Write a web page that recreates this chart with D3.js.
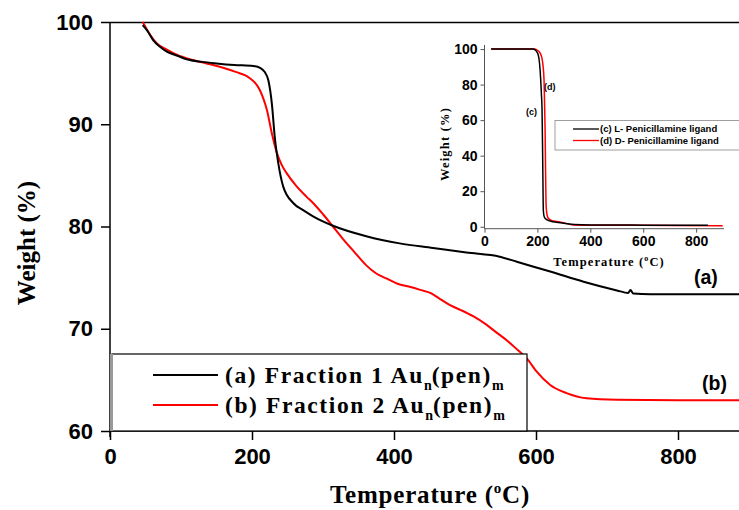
<!DOCTYPE html>
<html>
<head>
<meta charset="utf-8">
<script src="https://cdn.jsdelivr.net/npm/d3@7"></script>
<style>
body { margin: 0; background: #fff; }
svg { display: block; }
</style>
</head>
<body>
<script>
const width = 739, height = 510;

// main TGA curves
const tempA = [46, 52, 61, 70, 80, 95, 108, 130, 150, 175, 202, 212, 218, 223, 228, 232, 237, 244, 258, 272, 286, 315, 361, 408, 455, 502, 549, 573, 620, 667, 714, 730, 733, 737, 761, 800, 900];
const weightA = [99.7, 99.2, 98.2, 97.6, 97.1, 96.7, 96.35, 96.1, 95.95, 95.8, 95.7, 95.5, 95.1, 94.3, 92.0, 88.8, 86.2, 83.9, 82.3, 81.6, 81.0, 80.05, 79.05, 78.35, 77.9, 77.45, 77.05, 76.55, 75.6, 74.6, 73.75, 73.5, 73.8, 73.45, 73.37, 73.37, 73.37];
const tempB = [46, 56, 66, 80, 94, 115, 136, 158, 178, 190, 197, 205, 211, 216, 221, 228, 235, 242, 249, 262, 277, 286, 300, 314, 328, 343, 361, 375, 390, 405, 422, 437, 451, 465, 479, 495, 512, 528, 545, 560, 573, 587, 601, 620, 643, 671, 714, 800, 900];
const weightB = [100, 98.8, 97.9, 97.3, 96.8, 96.3, 95.95, 95.55, 95.1, 94.8, 94.5, 94.0, 93.35, 92.5, 91.4, 89.1, 87.2, 86.0, 85.2, 84.0, 82.9, 82.3, 81.2, 80.0, 78.8, 77.6, 76.2, 75.4, 74.9, 74.4, 74.1, 73.8, 73.5, 72.9, 72.3, 71.8, 71.2, 70.5, 69.6, 68.8, 68.0, 67.1, 65.8, 64.5, 63.7, 63.2, 63.05, 63.0, 63.0];

// inset: free ligands
const tempC = [25, 100, 184, 195, 203, 208, 212.5, 215, 217.5, 220, 222.5, 226, 235, 260, 300, 340, 400, 600, 845];
const weightC = [100, 100, 100, 99, 96.8, 92, 82.7, 75, 66, 38, 8.9, 5.5, 4, 2.8, 2, 1.2, 1, 0.9, 0.8];
const tempD = [25, 100, 190, 197, 208, 216, 221, 225, 227, 229, 231, 232.5, 236, 241, 255, 273, 298, 336, 400, 600, 880, 900];
const weightD = [100, 100, 100, 99.6, 98.3, 95.6, 91, 82.7, 70, 54.6, 30, 13.3, 7, 4.8, 3.4, 3, 2.3, 1.0, 0.9, 0.8, 0.6, 0.6];

const xTicks = [0, 200, 400, 600, 800];
const yTicks = [60, 70, 80, 90, 100];
const insetXTicks = [0, 200, 400, 600, 800];
const insetYTicks = [0, 20, 40, 60, 80, 100];

const sans = "'Liberation Sans', Arial, sans-serif";
const serif = "'Liberation Serif', 'Times New Roman', serif";

const svg = d3.select("body").append("svg")
    .attr("width", width)
    .attr("height", height);

const x = d3.scaleLinear().domain([0, 900]).range([110, 749]);
const y = d3.scaleLinear().domain([60, 100]).range([431, 22]);

const line = d3.line().curve(d3.curveMonotoneX);

function pts(t, w, sx, sy) {
    return t.map((d, i) => [sx(d), sy(w[i])]);
}

// frame top
svg.append("line")
    .attr("x1", 110).attr("x2", width)
    .attr("y1", 22.5).attr("y2", 22.5)
    .attr("stroke", "#000").attr("stroke-width", 1.3);

// x axis
const gx = svg.append("g").attr("transform", "translate(0,431)");
gx.call(d3.axisBottom(x).tickValues(d3.range(100, 900, 200)).tickSize(5).tickFormat(""));
gx.call(d3.axisBottom(x).tickValues(xTicks).tickSize(9).tickPadding(8).tickFormat(d3.format("d")));
gx.select(".domain").attr("d", `M110,0H${width}`);
gx.selectAll("path,line").attr("stroke", "#000").attr("stroke-width", 1.5);
gx.selectAll("text").attr("font-family", sans).attr("font-weight", "bold").attr("font-size", 22).attr("fill", "#000");

// y axis
const gy = svg.append("g").attr("transform", "translate(110,0)");
gy.call(d3.axisLeft(y).tickValues([65, 75, 85, 95]).tickSize(5).tickFormat(""));
gy.call(d3.axisLeft(y).tickValues(yTicks).tickSize(9).tickPadding(8).tickFormat(d3.format("d")));
gy.select(".domain").attr("d", "M0,22V437");
gy.selectAll("path,line").attr("stroke", "#000").attr("stroke-width", 1.5);
gy.selectAll("text").attr("font-family", sans).attr("font-weight", "bold").attr("font-size", 22).attr("fill", "#000");

// curves
svg.append("path")
    .attr("d", line(pts(tempB, weightB, x, y)))
    .attr("fill", "none").attr("stroke", "#ff0000").attr("stroke-width", 2);
svg.append("path")
    .attr("d", line(pts(tempA, weightA, x, y)))
    .attr("fill", "none").attr("stroke", "#000").attr("stroke-width", 2);

// axis titles
svg.append("text")
    .attr("transform", "translate(35,243) rotate(-90)")
    .attr("text-anchor", "middle")
    .attr("font-family", serif).attr("font-weight", "bold").attr("font-size", 25)
    .text("Weight (%)");

const xt = svg.append("text")
    .attr("x", 430).attr("y", 503)
    .attr("text-anchor", "middle")
    .attr("font-family", serif).attr("font-weight", "bold").attr("font-size", 25)
    .attr("letter-spacing", 0.8);
xt.append("tspan").text("Temperature (");
xt.append("tspan").attr("font-size", 15).attr("dy", -10).text("o");
xt.append("tspan").attr("dy", 10).text("C)");

// curve labels
svg.append("text").attr("x", 694).attr("y", 284)
    .attr("font-family", sans).attr("font-weight", "bold").attr("font-size", 19.5)
    .text("(a)");
svg.append("text").attr("x", 702).attr("y", 390)
    .attr("font-family", sans).attr("font-weight", "bold").attr("font-size", 19.5)
    .text("(b)");

// legend
const lg = svg.append("g");
lg.append("rect")
    .attr("x", 112).attr("y", 354).attr("width", 415).attr("height", 77)
    .attr("fill", "#fff").attr("stroke", "#000").attr("stroke-width", 1.2);
lg.append("rect")
    .attr("x", 110).attr("y", 354).attr("width", 3).attr("height", 77)
    .attr("fill", "#999");

const legendItems = [
    { label: "(a) Fraction 1 Au", color: "#000" },
    { label: "(b) Fraction 2 Au", color: "#ff0000" }
];
legendItems.forEach((d, i) => {
    const cy = 375 + i * 30;
    lg.append("line")
        .attr("x1", 153).attr("x2", 218)
        .attr("y1", cy).attr("y2", cy)
        .attr("stroke", d.color).attr("stroke-width", 2);
    const t = lg.append("text")
        .attr("x", 225).attr("y", cy + 8)
        .attr("font-family", serif).attr("font-weight", "bold").attr("font-size", 23.5)
        .attr("letter-spacing", 1.6);
    t.append("tspan").text(d.label);
    t.append("tspan").attr("font-size", 14).attr("dy", 7).attr("letter-spacing", 0).text("n");
    t.append("tspan").attr("dy", -7).text("(pen)");
    t.append("tspan").attr("font-size", 14).attr("dy", 7).attr("letter-spacing", 0).text("m");
});

// ---- inset ----
const xi = d3.scaleLinear().domain([0, 900]).range([484.5, 722.6]);
const yi = d3.scaleLinear().domain([-1.1, 102.3]).range([228.7, 45]);

const gxi = svg.append("g").attr("transform", "translate(0,228.7)");
gxi.call(d3.axisBottom(xi).tickValues(d3.range(100, 900, 200)).tickSize(2).tickFormat(""));
gxi.call(d3.axisBottom(xi).tickValues(insetXTicks).tickSize(4).tickPadding(3).tickFormat(d3.format("d")));
gxi.select(".domain").attr("d", "M484.5,0H724");
gxi.selectAll("path,line").attr("stroke", "#555").attr("stroke-width", 1);
gxi.selectAll("text").attr("font-family", sans).attr("font-weight", "bold").attr("font-size", 14).attr("fill", "#000");

const gyi = svg.append("g").attr("transform", "translate(484.5,0)");
gyi.call(d3.axisLeft(yi).tickValues([10, 30, 50, 70, 90]).tickSize(2).tickFormat(""));
gyi.call(d3.axisLeft(yi).tickValues(insetYTicks).tickSize(4).tickPadding(3).tickFormat(d3.format("d")));
gyi.select(".domain").attr("d", "M0,45V228.7");
gyi.selectAll("path,line").attr("stroke", "#555").attr("stroke-width", 1);
gyi.selectAll("text").attr("font-family", sans).attr("font-weight", "bold").attr("font-size", 14).attr("fill", "#000");

svg.append("path")
    .attr("d", line(pts(tempD, weightD, xi, yi)))
    .attr("fill", "none").attr("stroke", "#ff0000").attr("stroke-width", 1.5);
svg.append("path")
    .attr("d", line(pts(tempC, weightC, xi, yi)))
    .attr("fill", "none").attr("stroke", "#000").attr("stroke-width", 1.5);

svg.append("text").attr("x", 544).attr("y", 90)
    .attr("font-family", sans).attr("font-weight", "bold").attr("font-size", 9)
    .text("(d)");
svg.append("text").attr("x", 526).attr("y", 115)
    .attr("font-family", sans).attr("font-weight", "bold").attr("font-size", 9)
    .text("(c)");

svg.append("text")
    .attr("transform", "translate(449,144) rotate(-90)")
    .attr("text-anchor", "middle")
    .attr("font-family", serif).attr("font-weight", "bold").attr("font-size", 12.5)
    .attr("letter-spacing", 1.2)
    .text("Weight (%)");

const xti = svg.append("text")
    .attr("x", 609).attr("y", 266)
    .attr("text-anchor", "middle")
    .attr("font-family", serif).attr("font-weight", "bold").attr("font-size", 12.5)
    .attr("letter-spacing", 1.1);
xti.append("tspan").text("Temperature (");
xti.append("tspan").attr("font-size", 8).attr("dy", -5).text("o");
xti.append("tspan").attr("dy", 5).text("C)");

const il = svg.append("g");
il.append("rect")
    .attr("x", 555).attr("y", 120.5).attr("width", 190).attr("height", 29.5)
    .attr("fill", "#fff").attr("stroke", "#888").attr("stroke-width", 0.8);
const insetItems = [
    { label: "(c) L- Penicillamine ligand", color: "#000" },
    { label: "(d) D- Penicillamine ligand", color: "#ff0000" }
];
insetItems.forEach((d, i) => {
    const cy = 129 + i * 11.5;
    il.append("line")
        .attr("x1", 573).attr("x2", 599)
        .attr("y1", cy).attr("y2", cy)
        .attr("stroke", d.color).attr("stroke-width", 1.3);
    il.append("text")
        .attr("x", 600).attr("y", cy + 3.3)
        .attr("font-family", sans).attr("font-weight", "bold").attr("font-size", 9.5)
        .text(d.label);
});
</script>
</body>
</html>
